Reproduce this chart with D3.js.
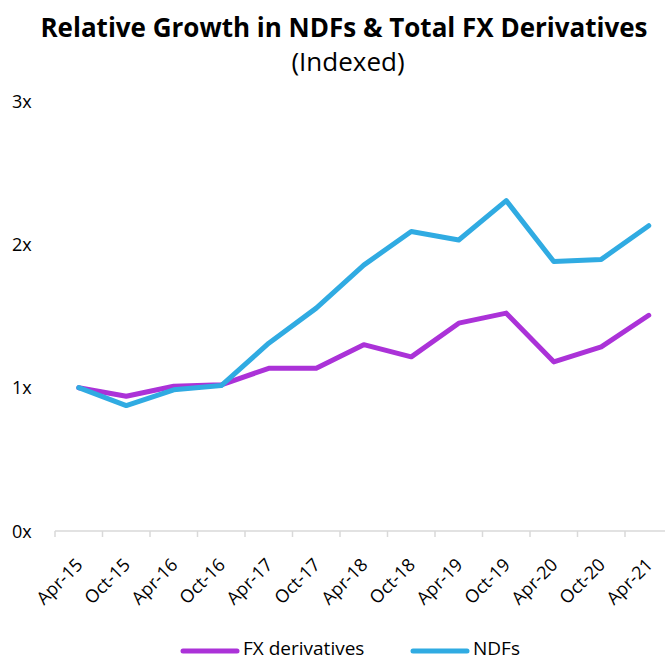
<html>
<head>
<script src="https://d3js.org/d3.v7.min.js"></script>
<style>
  body { margin: 0; background: #fff; }
  text { font-family: "Open Sans", "Noto Sans", sans-serif; fill: #000; }
  .title { font-weight: bold; font-size: 26px; }
  .subtitle { font-size: 26px; }
  .tick-label { font-size: 18px; }
  .legend-text { font-size: 19px; }
</style>
</head>
<body>
<svg id="chart" width="665" height="661"></svg>
<script>
const periods = ["Apr-15","Oct-15","Apr-16","Oct-16","Apr-17","Oct-17","Apr-18",
                 "Oct-18","Apr-19","Oct-19","Apr-20","Oct-20","Apr-21"];
const fxDerivatives = [1.00,0.94,1.01,1.02,1.135,1.135,1.30,1.215,1.45,1.52,1.18,1.285,1.505];
const ndfs = [1.00,0.875,0.985,1.015,1.31,1.555,1.855,2.09,2.03,2.305,1.88,1.895,2.13];
const yTicks = [0,1,2,3];

const svg = d3.select("svg#chart");

// band scale so ticks sit between categories like the original
const x = d3.scaleBand().domain(periods).range([55, 672.5]).padding(0);
const y = d3.scaleLinear().domain([0,3]).range([531, 101]);

// title
svg.append("text").attr("class","title")
   .attr("x", 344).attr("y", 37).attr("text-anchor","middle")
   .text("Relative Growth in NDFs & Total FX Derivatives");
svg.append("text").attr("class","subtitle")
   .attr("x", 348).attr("y", 71).attr("text-anchor","middle")
   .text("(Indexed)");

// y labels (no axis line)
svg.append("g").selectAll("text").data(yTicks).join("text")
   .attr("class","tick-label")
   .attr("x", 12).attr("y", d => y(d) + 6.5)
   .text(d => d + "x");

// x axis
const xAxis = svg.append("g").attr("transform", `translate(0,${y(0)})`);
xAxis.append("line").attr("x1", 55).attr("x2", 672.5)
     .attr("stroke", "#d9d9d9").attr("stroke-width", 1.5);
xAxis.selectAll("line.tk").data(periods).join("line")
     .attr("class","tk")
     .attr("x1", d => x(d)).attr("x2", d => x(d))
     .attr("y1", 0).attr("y2", 6)
     .attr("stroke", "#d9d9d9").attr("stroke-width", 1.5);
xAxis.selectAll("text").data(periods).join("text")
     .attr("class","tick-label")
     .attr("text-anchor","end")
     .attr("transform", d => `translate(${x(d) + x.bandwidth()/2 + 5},${35}) rotate(-45)`)
     .text(d => d);

// lines
const line = d3.line()
   .x((d,i) => x(periods[i]) + x.bandwidth()/2)
   .y(d => y(d));

const series = [
  {name: "FX derivatives", values: fxDerivatives, color: "#ab32d8"},
  {name: "NDFs", values: ndfs, color: "#30abe2"}
];

svg.append("g").selectAll("path").data(series).join("path")
   .attr("fill","none")
   .attr("stroke", d => d.color)
   .attr("stroke-width", 5)
   .attr("stroke-linejoin","round")
   .attr("stroke-linecap","round")
   .attr("d", d => line(d.values));

// legend
const legendPos = [183, 413];
const legend = svg.append("g");
series.forEach((s,i) => {
  legend.append("line")
     .attr("x1", legendPos[i]).attr("x2", legendPos[i] + 54)
     .attr("y1", 651).attr("y2", 651)
     .attr("stroke", s.color).attr("stroke-width", 5)
     .attr("stroke-linecap","round");
  legend.append("text").attr("class","legend-text")
     .attr("x", legendPos[i] + 60).attr("y", 655)
     .text(s.name);
});
</script>
</body>
</html>
